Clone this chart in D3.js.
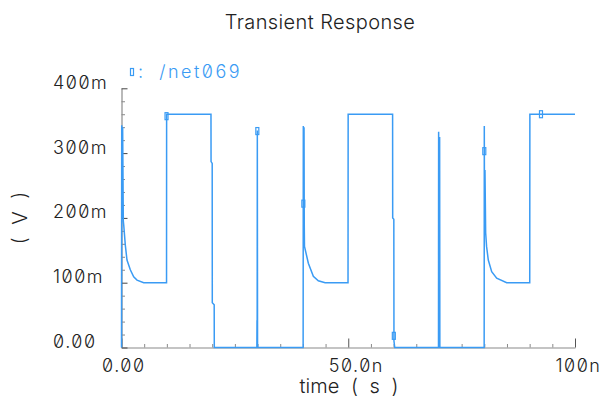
<!DOCTYPE html>
<html>
<head>
<meta charset="utf-8">
<script src="https://cdn.jsdelivr.net/npm/d3@7/dist/d3.min.js"></script>
<style>
  html, body { margin: 0; padding: 0; background: #ffffff; }
  svg { display: block; }
  text { font-family: Inter, "DejaVu Sans", sans-serif; font-weight: 300; font-feature-settings: "zero" 1; }
</style>
</head>
<body>
<svg id="chart" width="601" height="403"></svg>
<script>
// ---- data (time in ns, voltage in mV) ----
const timeNs = [
  0, 0.05, 0.2, 0.25, 0.4, 0.49, 0.84, 1.21, 1.94, 2.69, 3.42, 4.9,
  9.93, 9.95,
  19.73, 19.75, 20.0, 20.02, 20.44, 20.46,
  29.85, 29.88, 29.91, 29.95, 30.0,
  40.05, 40.09, 40.2, 40.25, 40.3, 40.35, 41.2, 42.3, 43.4, 44.9,
  49.95, 49.98,
  59.78, 59.8, 60.05, 60.08, 60.25,
  69.9, 69.93, 70.0, 70.15, 70.2,
  79.97, 80.0, 80.03, 80.15, 80.3, 80.5, 80.88, 81.63, 82.73, 84.94,
  90.02, 90.05, 100
];
const voltMv = [
  0, 343, 200, 340, 195, 189, 158, 135, 120, 109, 104, 100,
  100, 360,
  360, 287, 284, 69, 66, 0,
  0, 42, 0, 335, 0,
  0, 342, 190, 340, 189, 156, 130, 110, 103, 100,
  100, 360,
  360, 200, 198, 10, 0,
  0, 333, 0, 325, 0,
  0, 342, 250, 274, 177, 156, 135, 117, 107, 100,
  100, 360, 360
];
const markerTimeNs = [9.93, 29.95, 40.1, 60.05, 80.0, 92.5];
const markerVoltMv = [357, 334, 222, 18, 303, 360];

const xMajorTicks = [0, 50, 100];
const xMajorLabels = ["0.00", "50.0n", "100n"];
const yMajorTicks = [0, 100, 200, 300, 400];
const yMajorLabels = ["0.00", "100m", "200m", "300m", "400m"];

const titleText = "Transient Response";
const seriesName = ": /net069";
const xAxisTitle = "time ( s )";
const yAxisTitle = "( V )";

// ---- drawing ----
const traceColor = "#3a9bf4";
const svg = d3.select("#chart");
const x = d3.scaleLinear().domain([0, 100]).range([121.5, 575]);
const y = d3.scaleLinear().domain([0, 400]).range([347.5, 88.3]);

const pts = timeNs.map((t, i) => ({ t: t, v: voltMv[i] }));

// minor ticks
const xMinor = d3.range(0, 100.001, 5).filter(v => !xMajorTicks.includes(v));
const yMinor = d3.range(0, 400.001, 20).filter(v => !yMajorTicks.includes(v));

const gxMinor = svg.append("g").attr("transform", `translate(0,${y(0)})`)
  .call(d3.axisBottom(x).tickValues(xMinor).tickSize(-3.5).tickSizeOuter(0).tickFormat(""));
gxMinor.select(".domain").remove();
gxMinor.selectAll("line").attr("stroke", "#8a8a8a");

const gyMinor = svg.append("g").attr("transform", `translate(${x(0)},0)`)
  .call(d3.axisLeft(y).tickValues(yMinor).tickSize(-3.5).tickSizeOuter(0).tickFormat(""));
gyMinor.select(".domain").remove();
gyMinor.selectAll("line").attr("stroke", "#8a8a8a");

// major axes
const gx = svg.append("g").attr("transform", `translate(0,${y(0)})`)
  .call(d3.axisBottom(x).tickValues(xMajorTicks).tickSize(-9).tickSizeOuter(0)
    .tickFormat((d, i) => xMajorLabels[i]));
gx.select(".domain").attr("stroke", "#8a8a8a").attr("stroke-width", 1.2);
gx.selectAll("line").attr("stroke", "#555");
gx.selectAll("text").attr("y", 24.5).attr("dy", "0").attr("x", -20)
  .attr("text-anchor", "start").attr("fill", "#222")
  .style("font-size", "18px").style("letter-spacing", "1.5px");

const gy = svg.append("g").attr("transform", `translate(${x(0)},0)`)
  .call(d3.axisLeft(y).tickValues(yMajorTicks).tickSize(-6).tickSizeOuter(0)
    .tickFormat((d, i) => yMajorLabels[i]));
gy.select(".domain").attr("stroke", "#8a8a8a").attr("stroke-width", 1.2);
gy.selectAll("line").attr("stroke", "#444");
gy.selectAll("text").attr("x", -68.5).attr("dy", "0").attr("text-anchor", "start")
  .attr("fill", "#222").style("font-size", "18px").style("letter-spacing", "1.5px");

// trace
svg.append("path").datum(pts)
  .attr("fill", "none")
  .attr("stroke", traceColor)
  .attr("stroke-width", 1.5)
  .attr("d", d3.line().x(d => x(d.t)).y(d => y(d.v)));

// markers
svg.selectAll("rect.mk").data(markerTimeNs).enter().append("rect")
  .attr("class", "mk")
  .attr("x", d => x(d) - 1.5)
  .attr("y", (d, i) => y(markerVoltMv[i]) - 3.5)
  .attr("width", 3).attr("height", 7)
  .attr("fill", "none").attr("stroke", traceColor).attr("stroke-width", 1.2);

// title
svg.append("text").attr("x", 320).attr("y", 29).attr("text-anchor", "middle")
  .attr("fill", "#222").style("font-size", "20px").style("letter-spacing", "0.4px")
  .text(titleText);

// legend
svg.append("rect").attr("x", 130.5).attr("y", 68.5).attr("width", 3).attr("height", 7)
  .attr("fill", "none").attr("stroke", traceColor).attr("stroke-width", 1.2);
svg.append("text").attr("x", 138).attr("y", 78).attr("fill", traceColor)
  .style("font-size", "18px").style("letter-spacing", "2.5px").style("word-spacing", "6px")
  .style("white-space", "pre").text(seriesName);

// axis titles
svg.append("text").attr("x", 349).attr("y", 393).attr("text-anchor", "middle")
  .attr("fill", "#222").style("font-size", "20px").style("word-spacing", "6px")
  .style("white-space", "pre").text(xAxisTitle);
svg.append("text").attr("transform", "translate(27,218) rotate(-90)")
  .attr("text-anchor", "middle").attr("fill", "#222").style("font-size", "20px")
  .style("word-spacing", "7px").style("white-space", "pre").text(yAxisTitle);
</script>
</body>
</html>
